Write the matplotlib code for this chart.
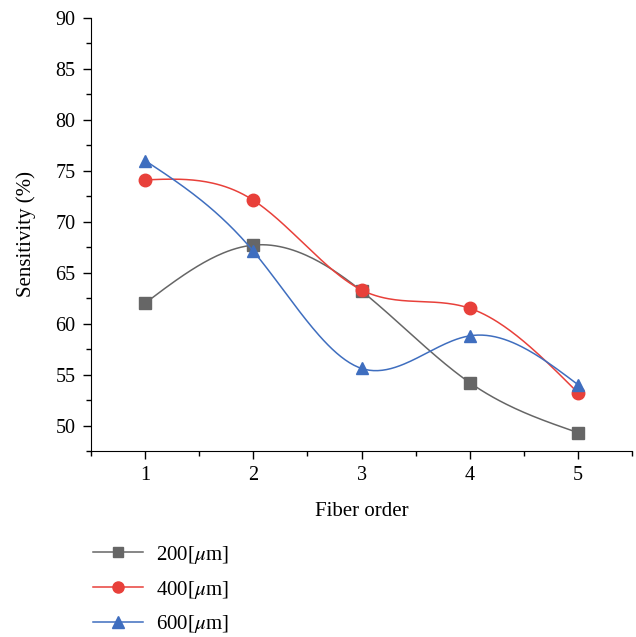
import numpy as np
import matplotlib.pyplot as plt
from matplotlib.lines import Line2D

# donnees
fiber_order = [1, 2, 3, 4, 5]
s200 = [62.0, 67.7, 63.2, 54.2, 49.3]
s400 = [74.1, 72.1, 63.3, 61.5, 53.2]
s600 = [76.0, 67.1, 55.6, 58.8, 54.0]
labels = ["200[$\\mu$m]", "400[$\\mu$m]", "600[$\\mu$m]"]


def natural_spline(x, y, n=200):
    # spline cubique naturelle pour lisser la ligne entre les points
    x = np.asarray(x, float)
    y = np.asarray(y, float)
    k = len(x)
    h = np.diff(x)
    A = np.zeros((k, k))
    b = np.zeros(k)
    A[0, 0] = A[-1, -1] = 1
    for i in range(1, k - 1):
        A[i, i - 1] = h[i - 1]
        A[i, i] = 2 * (h[i - 1] + h[i])
        A[i, i + 1] = h[i]
        b[i] = 3 * ((y[i + 1] - y[i]) / h[i] - (y[i] - y[i - 1]) / h[i - 1])
    c = np.linalg.solve(A, b)
    xs = np.linspace(x[0], x[-1], n)
    ys = np.empty_like(xs)
    for j, xv in enumerate(xs):
        i = min(np.searchsorted(x, xv, side="right") - 1, k - 2)
        dx = xv - x[i]
        bi = (y[i + 1] - y[i]) / h[i] - h[i] * (2 * c[i] + c[i + 1]) / 3
        di = (c[i + 1] - c[i]) / (3 * h[i])
        ys[j] = y[i] + bi * dx + c[i] * dx ** 2 + di * dx ** 3
    return xs, ys


plt.rcParams["font.family"] = ["Liberation Serif", "DejaVu Serif"]
plt.rcParams["mathtext.fontset"] = "stix"

fig = plt.figure(figsize=(6.36, 6.37), dpi=100)
ax = fig.add_axes([0.143, 0.292, 0.851, 0.680])

series = [
    (s200, "#666666", "s", 8),
    (s400, "#e8403a", "o", 9),
    (s600, "#3f6ebf", "^", 9),
]
handles = []
for (vals, col, mk, ms), lab in zip(series, labels):
    xs, ys = natural_spline(fiber_order, vals)
    ax.plot(xs, ys, color=col, lw=1.1)
    ax.plot(fiber_order, vals, ls="none", marker=mk, ms=ms, color=col,
            markeredgecolor=col)
    handles.append(Line2D([], [], color=col, lw=1.1, marker=mk, ms=ms - 1,
                          markeredgecolor=col, label=lab))

ax.set_xlim(0.5, 5.5)
ax.set_ylim(47.5, 90)
ax.set_xticks(fiber_order)
ax.set_xticks([0.5, 1.5, 2.5, 3.5, 4.5, 5.5], minor=True)
ax.set_yticks(np.arange(50, 91, 5))
ax.set_yticks(np.arange(47.5, 90, 2.5), minor=True)
ax.tick_params(which="major", direction="out", length=6, width=1,
               labelsize=14.5, pad=5)
ax.tick_params(which="minor", direction="out", length=3.5, width=1)
ax.spines["top"].set_visible(False)
ax.spines["right"].set_visible(False)
ax.set_xlabel("Fiber order", fontsize=15, labelpad=12)
ax.set_ylabel("Sensitivity (%)", fontsize=15, labelpad=14)

fig.legend(handles=handles, loc="upper left", bbox_to_anchor=(0.116, 0.176),
           frameon=False, fontsize=15, handlelength=2.4, labelspacing=0.62,
           handletextpad=0.67)

fig.savefig("out.png", dpi=100)
